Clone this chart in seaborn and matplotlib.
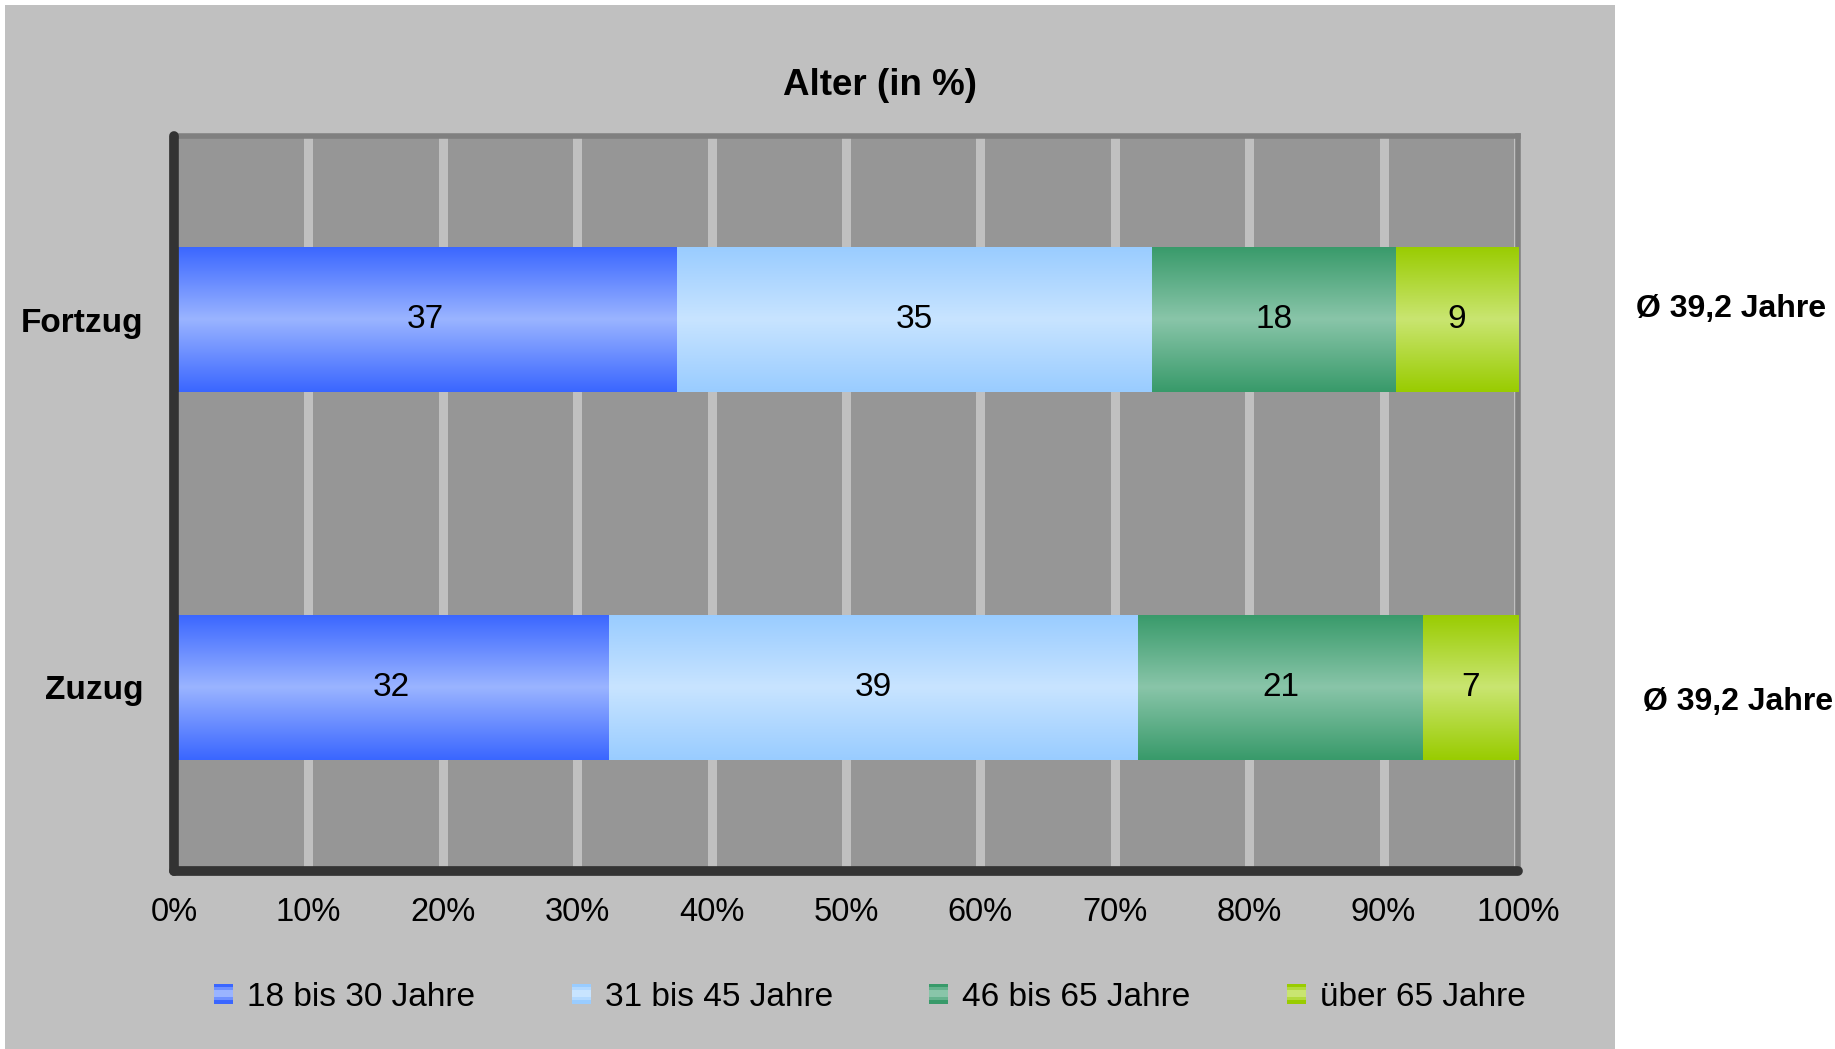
import numpy as np
import pandas as pd
import matplotlib
matplotlib.use("Agg")
import matplotlib.pyplot as plt
import matplotlib.lines as mlines
from matplotlib.markers import MarkerStyle
from matplotlib.patches import Rectangle
from matplotlib.legend_handler import HandlerBase
from matplotlib.ticker import FixedLocator
import seaborn as sns

# ---- data -------------------------------------------------------------
categories = ["Fortzug", "Zuzug"]
age_groups = ["18 bis 30 Jahre", "31 bis 45 Jahre", "46 bis 65 Jahre", "über 65 Jahre"]
fortzug_values = [37, 35, 18, 9]
zuzug_values = [32, 39, 21, 7]
avg_age_labels = ["Ø 39,2 Jahre", "Ø 39,2 Jahre"]
x_ticks = [0, 10, 20, 30, 40, 50, 60, 70, 80, 90, 100]
x_tick_labels = ["0%", "10%", "20%", "30%", "40%", "50%", "60%", "70%", "80%", "90%", "100%"]
title_text = "Alter (in %)"

# edge / centre colours of the bar gradients
edge_colors = ["#3A66FF", "#99CCFF", "#389A6A", "#99CC00"]
center_colors = ["#9AB4FF", "#C8E4FF", "#89C5A9", "#C9E571"]

# ---- long table with 100 % shares and stacked ends --------------------
rows = []
for cat, vals in zip(categories, [fortzug_values, zuzug_values]):
    total = sum(vals)
    cum = 0.0
    for grp, v in zip(age_groups, vals):
        share = v / total * 100
        cum += share
        rows.append({"Kategorie": cat, "Gruppe": grp, "Wert": v,
                     "Anteil": share, "Ende": cum})
df = pd.DataFrame(rows)

# ---- style ------------------------------------------------------------
sns.set_style("white")
plt.rcParams["font.family"] = ["Liberation Sans", "DejaVu Sans"]
plt.rcParams["text.color"] = "black"
plt.rcParams["xtick.labelcolor"] = "black"
plt.rcParams["ytick.labelcolor"] = "black"

W, H = 1835, 1049
fig = plt.figure(figsize=(W / 100, H / 100), dpi=100, facecolor="white")

# grey chart panel with a thin white margin at top/left and white strip right
fig.patches.append(Rectangle((5 / W, 0), (1615 - 5) / W, (H - 5) / H,
                             transform=fig.transFigure, facecolor="#C0C0C0",
                             edgecolor="none", zorder=-10))

ax = fig.add_axes([174 / W, 1 - 871 / H, (1518 - 174) / W, (871 - 136) / H])
ax.set_facecolor("#969696")


def blend(c1, c2, t):
    a = np.array(matplotlib.colors.to_rgb(c1))
    b = np.array(matplotlib.colors.to_rgb(c2))
    return a + (b - a) * t


# stacked bars: draw cumulative ends from the longest to the shortest
order = list(range(len(age_groups)))[::-1]
for k, gi in enumerate(order):
    grp = age_groups[gi]
    sub = df[df["Gruppe"] == grp]
    n_before = len(ax.patches)
    sns.barplot(data=sub, x="Ende", y="Kategorie", order=categories,
                orient="h", width=0.395, color=edge_colors[gi],
                saturation=1, errorbar=None, ax=ax)
    u = np.linspace(0, 1, 256)
    prof = 1 - np.abs(2 * u - 1)
    grad = np.array([blend(edge_colors[gi], center_colors[gi], t) for t in prof])
    grad = grad[:, None, :]
    for p in ax.patches[n_before:]:
        p.set_zorder(3 + 2 * k)
        p.set_edgecolor("none")
        x0, y0 = p.get_x(), p.get_y()
        w, h = p.get_width(), p.get_height()
        im = ax.imshow(grad, extent=[x0, x0 + w, y0 + h, y0], aspect="auto",
                       interpolation="bilinear", zorder=4 + 2 * k)
        im.set_clip_path(p)

# value labels in the middle of each segment
for _, r in df.iterrows():
    yi = categories.index(r["Kategorie"])
    ax.text(r["Ende"] - r["Anteil"] / 2, yi, f"{r['Wert']}", ha="center",
            va="center", fontsize=24, color="black", zorder=20)

ax.set_xlim(0, 100)
ax.set_ylim(1.5, -0.5)
ax.set_xlabel("")
ax.set_ylabel("")

# x axis
ax.set_xticks(x_ticks, labels=x_tick_labels)
ax.tick_params(axis="x", direction="out", length=9, width=7, color="#333333",
               pad=10, labelsize=23.5, labelcolor="black")
ax.xaxis.grid(True, color="#C0C0C0", linewidth=6.5)
ax.yaxis.grid(False)
ax.set_axisbelow(True)

# y axis: category labels, ticks at category borders
ax.set_yticks([0, 1], labels=categories)
ax.yaxis.set_minor_locator(FixedLocator([-0.5, 0.5, 1.5]))
ax.tick_params(axis="y", which="major", length=0, pad=22, labelsize=24,
               labelcolor="black")
ax.tick_params(axis="y", which="minor", direction="out", length=8, width=7,
               color="#333333")
for lab in ax.get_yticklabels():
    lab.set_fontweight("bold")

for t in ax.xaxis.get_major_ticks():
    t.tick1line.set_marker(MarkerStyle(mlines.TICKDOWN, capstyle="round"))
for t in ax.yaxis.get_minor_ticks():
    t.tick1line.set_marker(MarkerStyle(mlines.TICKLEFT, capstyle="round"))

# spines
for side in ["left", "bottom"]:
    ax.spines[side].set_color("#333333")
    ax.spines[side].set_linewidth(7)
    ax.spines[side].set_capstyle("round")
    ax.spines[side].set_zorder(30)
for side in ["top", "right"]:
    ax.spines[side].set_color("#808080")
    ax.spines[side].set_linewidth(4)
    ax.spines[side].set_visible(True)

# title
fig.text(880 / W, 1 - 86 / H, title_text, ha="center", va="center",
         fontsize=26.5, fontweight="bold", color="black")

# average age annotations on the right
fig.text(1826 / W, 1 - 309 / H, avg_age_labels[0], ha="right", va="center",
         fontsize=23, fontweight="bold", color="black")
fig.text(1833 / W, 1 - 702 / H, avg_age_labels[1], ha="right", va="center",
         fontsize=23, fontweight="bold", color="black")


# legend with striped gradient squares
class StripeHandler(HandlerBase):
    def __init__(self, stripes):
        super().__init__()
        self.stripes = stripes

    def create_artists(self, legend, orig_handle, xdescent, ydescent,
                       width, height, fontsize, trans):
        n = len(self.stripes)
        arts = []
        for i, c in enumerate(self.stripes):
            arts.append(Rectangle((-xdescent, -ydescent + height * i / n),
                                  width, height / n, facecolor=c,
                                  edgecolor="none", transform=trans))
        return arts


handles, hmap = [], {}
for gi, grp in enumerate(age_groups):
    hd = Rectangle((0, 0), 1, 1, facecolor=edge_colors[gi])
    mid = matplotlib.colors.to_hex(blend(edge_colors[gi], center_colors[gi], 0.55))
    hmap[hd] = StripeHandler([edge_colors[gi], mid, center_colors[gi],
                              center_colors[gi], mid, edge_colors[gi]])
    handles.append(hd)

leg = fig.legend(handles, age_groups, handler_map=hmap, loc="center",
                 bbox_to_anchor=(870 / W, 1 - 997 / H), ncol=4, frameon=False,
                 fontsize=24, handlelength=0.57, handleheight=0.54,
                 handletextpad=0.42, columnspacing=2.9)
for txt in leg.get_texts():
    txt.set_color("black")

fig.savefig("out.png", dpi=100, facecolor="white")
